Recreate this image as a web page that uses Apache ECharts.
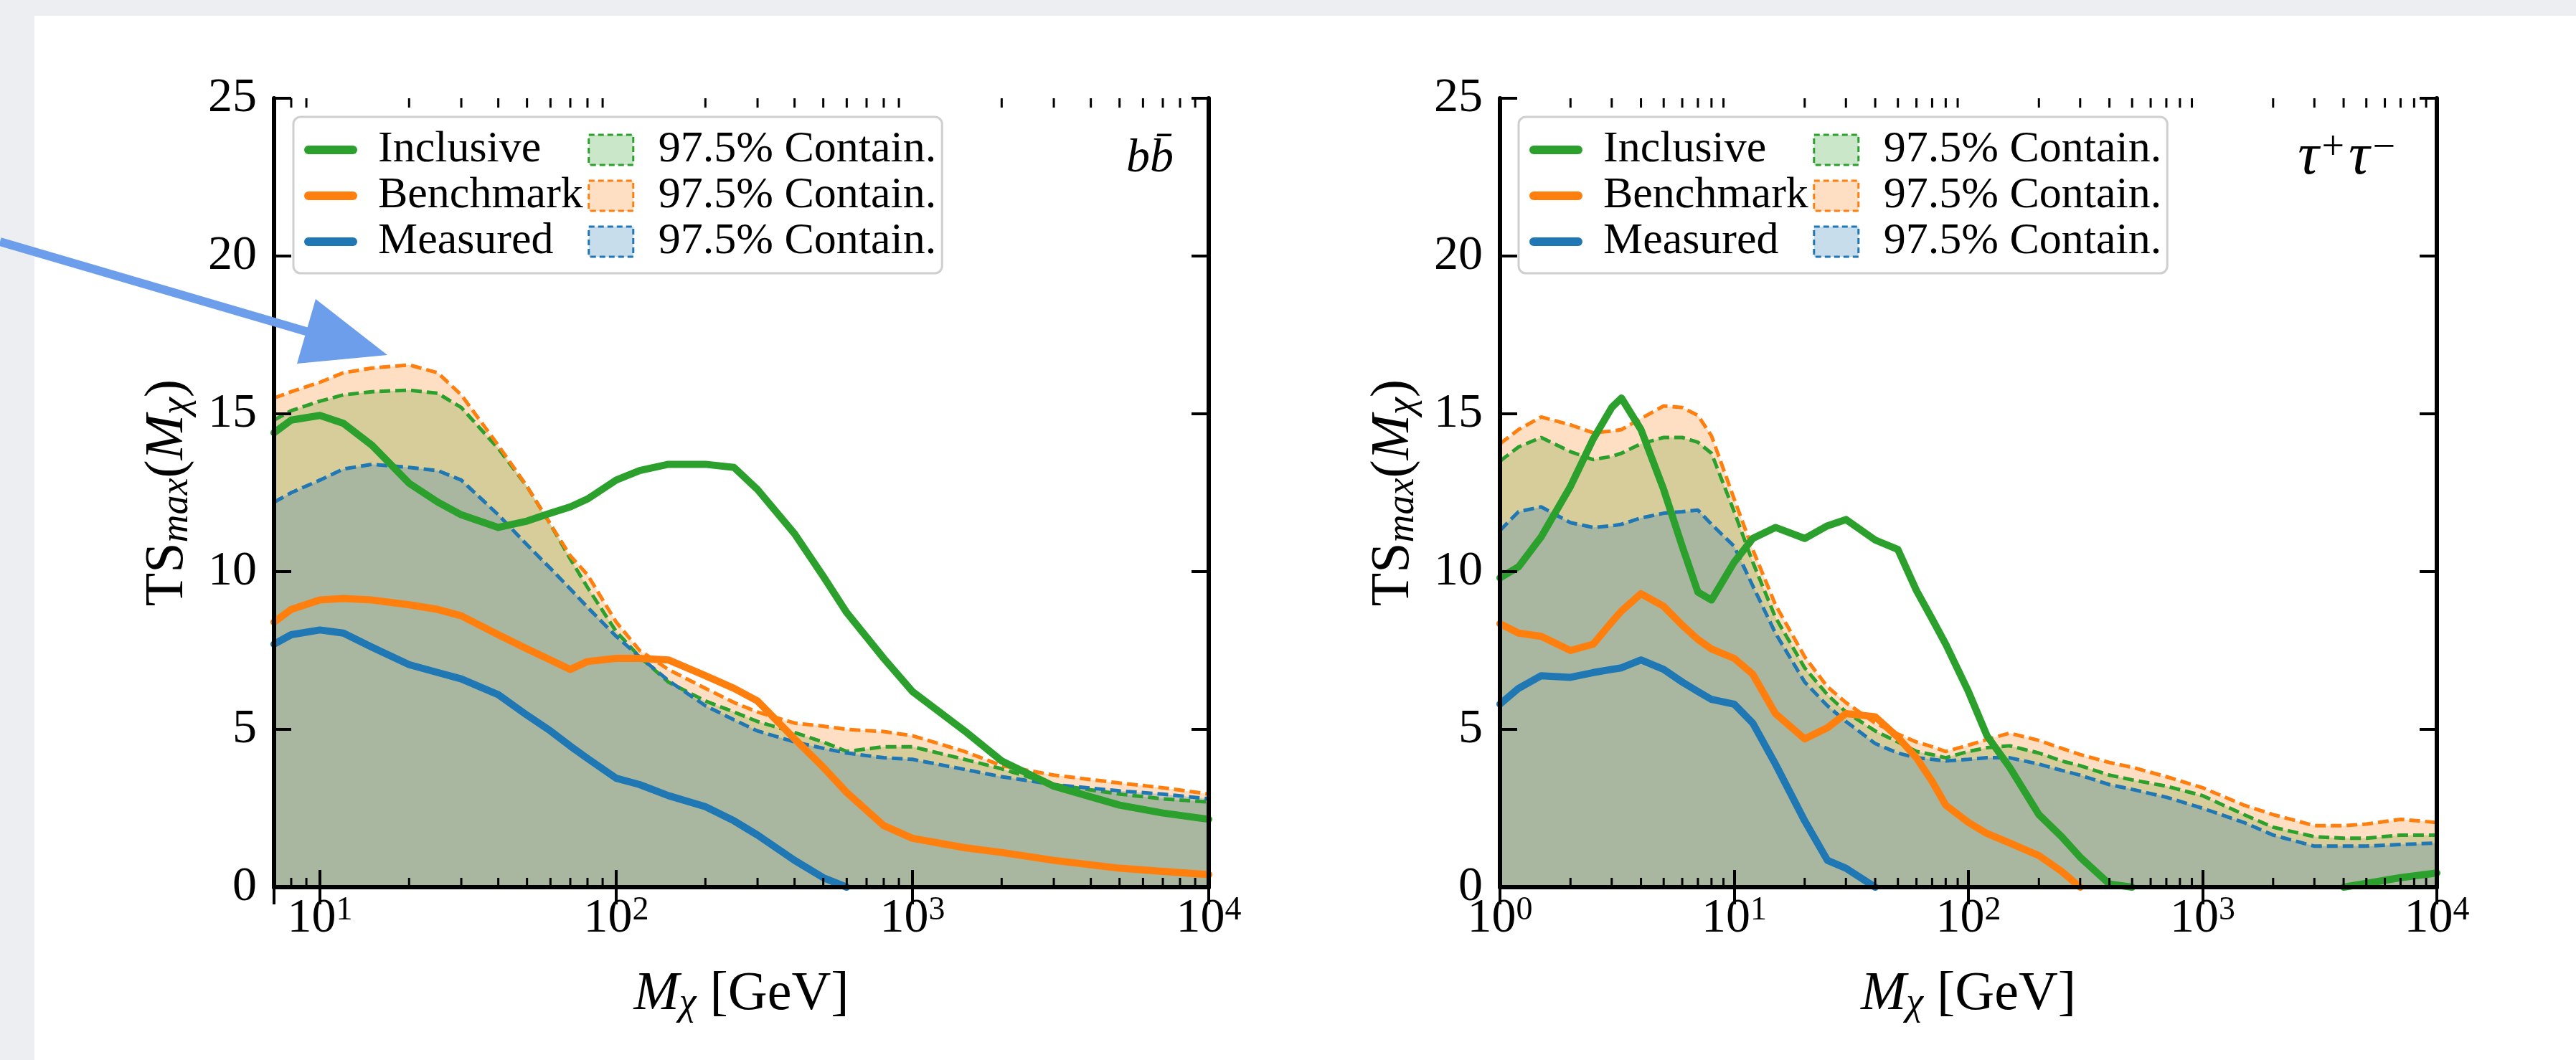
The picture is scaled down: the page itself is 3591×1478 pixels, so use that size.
<!DOCTYPE html>
<html>
<head>
<meta charset="utf-8">
<script src="https://cdn.jsdelivr.net/npm/echarts@6/dist/echarts.min.js"></script>
<style>
  html, body { margin: 0; padding: 0; background: #ffffff; }
  #chart { width: 3591px; height: 1478px; }
</style>
</head>
<body>
<div id="chart"></div>
<script>
// ---- b b-bar channel: dark-matter mass grid (GeV) and TS_max values ----
const massBB = [7, 8, 10, 12, 15, 20, 25, 30, 40, 50, 60, 70, 80, 100, 120, 150, 200, 250, 300, 400,
                500, 600, 800, 1000, 1500, 2000, 3000, 5000, 7000, 10000];
const bbInclusive = [14.4, 14.8, 14.95, 14.7, 14.0, 12.8, 12.2, 11.8, 11.4, 11.6, 11.85, 12.05, 12.3, 12.9, 13.2, 13.4, 13.4, 13.3, 12.6, 11.2,
                     9.85, 8.7, 7.25, 6.2, 4.95, 4.0, 3.2, 2.6, 2.35, 2.15];
const bbBenchmark = [8.4, 8.8, 9.1, 9.15, 9.1, 8.95, 8.8, 8.6, 8.0, 7.55, 7.2, 6.9, 7.15, 7.25, 7.25, 7.2, 6.7, 6.3, 5.9, 4.7,
                     3.8, 3.0, 1.95, 1.55, 1.25, 1.1, 0.85, 0.6, 0.5, 0.4];
const bbMeasured = [7.7, 8.0, 8.15, 8.05, 7.6, 7.05, 6.8, 6.6, 6.1, 5.45, 4.95, 4.47, 4.08, 3.45, 3.25, 2.9, 2.55, 2.1, 1.65, 0.85,
                    0.3, 0, null, null, null, null, null, null, null, null];
const bbBandInclusive = [14.8, 15.1, 15.4, 15.6, 15.7, 15.75, 15.65, 15.2, 13.9, 12.7, 11.5, 10.4, 9.5, 8.1, 7.3, 6.5, 5.9, 5.55, 5.25, 4.9,
                         4.6, 4.3, 4.45, 4.45, 4.05, 3.75, 3.25, 2.95, 2.8, 2.7];
const bbBandBenchmark = [15.5, 15.7, 16.0, 16.3, 16.45, 16.55, 16.3, 15.6, 14.0, 12.7, 11.5, 10.5, 9.9, 8.4, 7.5, 6.9, 6.3, 5.85, 5.55, 5.2,
                         5.1, 5.0, 4.93, 4.8, 4.3, 3.85, 3.55, 3.3, 3.15, 2.95];
const bbBandMeasured = [12.2, 12.5, 12.9, 13.25, 13.4, 13.3, 13.2, 12.9, 11.8, 10.85, 10.1, 9.45, 8.87, 7.95, 7.3, 6.55, 5.75, 5.3, 4.95, 4.6,
                        4.4, 4.25, 4.1, 4.05, 3.73, 3.5, 3.25, 3.05, 2.95, 2.8];

// ---- tau+ tau- channel ----
const massTT = [1, 1.2, 1.5, 2, 2.5, 3, 3.3, 4, 5, 6, 7, 8, 10, 12, 15, 20, 25, 30, 40, 50,
                60, 70, 80, 100, 120, 150, 200, 250, 300, 400, 500, 700, 1000, 1500, 2000, 3000, 4000, 5000, 7000, 10000];
const ttInclusive = [9.8, 10.15, 11.1, 12.7, 14.2, 15.2, 15.5, 14.5, 12.6, 10.8, 9.35, 9.1, 10.3, 11.05, 11.4, 11.05, 11.45, 11.65, 11.0, 10.7,
                     9.4, 8.5, 7.7, 6.2, 4.8, 3.8, 2.3, 1.6, 0.95, 0.1, 0, null, null, null, null, null, 0, 0.12, 0.3, 0.45];
const ttBenchmark = [8.35, 8.05, 7.95, 7.5, 7.7, 8.4, 8.75, 9.3, 8.9, 8.3, 7.85, 7.55, 7.25, 6.75, 5.5, 4.7, 5.05, 5.5, 5.4, 4.75,
                     4.1, 3.35, 2.6, 2.05, 1.7, 1.4, 1.0, 0.5, 0, null, null, null, null, null, null, null, null, null, null, null];
const ttMeasured = [5.8, 6.3, 6.7, 6.65, 6.8, 6.9, 6.95, 7.2, 6.9, 6.5, 6.2, 5.95, 5.8, 5.2, 3.9, 2.1, 0.85, 0.6, 0, null,
                    null, null, null, null, null, null, null, null, null, null, null, null, null, null, null, null, null, null, null, null];
const ttBandInclusive = [13.5, 13.95, 14.25, 13.8, 13.55, 13.65, 13.75, 14.05, 14.25, 14.25, 14.1, 13.75, 11.9, 10.3, 8.55, 6.95, 6.1, 5.55, 4.95, 4.6,
                         4.3, 4.2, 4.1, 4.3, 4.42, 4.48, 4.25, 4.0, 3.85, 3.55, 3.4, 3.2, 2.9, 2.3, 1.9, 1.6, 1.55, 1.55, 1.65, 1.65];
const ttBandBenchmark = [14.05, 14.5, 14.9, 14.65, 14.4, 14.45, 14.5, 14.85, 15.25, 15.2, 14.95, 14.3, 12.3, 10.7, 8.95, 7.3, 6.35, 5.85, 5.2, 4.85,
                         4.6, 4.45, 4.3, 4.5, 4.68, 4.88, 4.65, 4.4, 4.2, 3.95, 3.8, 3.5, 3.15, 2.6, 2.3, 1.95, 1.95, 2.0, 2.15, 2.05];
const ttBandMeasured = [11.3, 11.9, 12.05, 11.55, 11.4, 11.45, 11.5, 11.7, 11.85, 11.9, 11.95, 11.5, 10.8, 9.55, 8.05, 6.5, 5.75, 5.25, 4.55, 4.25,
                        4.1, 4.05, 4.0, 4.05, 4.1, 4.1, 3.9, 3.7, 3.55, 3.25, 3.1, 2.85, 2.5, 2.05, 1.65, 1.3, 1.3, 1.3, 1.35, 1.4];

// ---- axis ticks ----
const yTicks = [0, 5, 10, 15, 20, 25];
const minorDigits = [2, 3, 4, 5, 6, 7, 8, 9];
const decadesBB = [1, 10, 100, 1000];
const decadesTT = [1, 10, 100, 1000];

const SERIF = '"Liberation Serif", "DejaVu Serif", serif';
const GREEN = '#2ca02c', ORANGE = '#ff7f0e', BLUE = '#1f77b4';
const FILL_ALPHA = 0.25;

function pairs(xs, ys) { return xs.map((x, i) => [x, ys[i]]); }
function minorTicks(decades, lo, hi) {
  const out = [];
  decades.forEach(d => minorDigits.forEach(k => { const v = k * d; if (v > lo && v < hi) out.push(v); }));
  return out;
}

const tickRich = {
  b: { fontFamily: SERIF, fontSize: 68, lineHeight: 68, color: '#000', verticalAlign: 'bottom', padding: [8, 0, 0, 0] },
  s: { fontFamily: SERIF, fontSize: 46, lineHeight: 46, color: '#000', verticalAlign: 'top' }
};
function powerLabel(v) {
  const lg = Math.log10(v);
  const e = Math.round(lg);
  if (Math.abs(lg - e) > 1e-6) return '';
  return '{b|10}{s|' + e + '}';
}

const nameRich = {
  r: { fontFamily: SERIF, fontSize: 76, lineHeight: 80, color: '#000' },
  i: { fontFamily: SERIF, fontStyle: 'italic', fontSize: 76, lineHeight: 80, color: '#000' },
  sub: { fontFamily: SERIF, fontStyle: 'italic', fontSize: 54, lineHeight: 54, color: '#000', verticalAlign: 'bottom', padding: [44, 0, 0, 0] }
};

function xAxisPair(gridIndex, min) {
  const base = {
    type: 'log', logBase: 10, min: min, max: 10000, gridIndex: gridIndex, z: 10,
    axisLine: { show: true, lineStyle: { color: '#000', width: 6 } },
    axisTick: { show: true, inside: true, length: 24, lineStyle: { color: '#000', width: 4 } },
    splitLine: { show: false }, minorTick: { show: false }, minorSplitLine: { show: false }
  };
  return [
    Object.assign({}, base, {
      position: 'bottom',
      axisLabel: { show: true, margin: 10, formatter: powerLabel, rich: tickRich, showMinLabel: true, showMaxLabel: true },
      name: '{i|M}{sub|χ}{r| [GeV]}', nameLocation: 'middle', nameGap: 110,
      nameTextStyle: { rich: nameRich }
    }),
    Object.assign({}, base, { position: 'top', axisLabel: { show: false } })
  ];
}

function yAxisPair(gridIndex) {
  const base = {
    type: 'value', min: 0, max: 25, interval: 5, gridIndex: gridIndex, z: 10,
    axisLine: { show: true, lineStyle: { color: '#000', width: 6 } },
    axisTick: { show: true, inside: true, length: 24, lineStyle: { color: '#000', width: 4 } },
    splitLine: { show: false }
  };
  return [
    Object.assign({}, base, {
      position: 'left',
      axisLabel: { show: true, margin: 24, fontFamily: SERIF, fontSize: 68, color: '#000',
                   formatter: v => (yTicks.indexOf(v) >= 0 ? String(v) : '') },
      name: '{r|TS}{sub|max}{r|(}{i|M}{sub|χ}{r|)}', nameLocation: 'middle', nameGap: 108,
      nameRotate: 90, nameTextStyle: { rich: nameRich }
    }),
    Object.assign({}, base, { position: 'right', axisLabel: { show: false } })
  ];
}

function bandSeries(name, xi, yi, mass, vals, color) {
  return {
    name: name, type: 'line', xAxisIndex: xi, yAxisIndex: yi, data: pairs(mass, vals),
    symbol: 'none', silent: true, z: 1, animation: false,
    itemStyle: { color: color },
    lineStyle: { color: color, width: 5, type: [15, 7] },
    areaStyle: { color: color, opacity: FILL_ALPHA }
  };
}
function lineSeries(name, xi, yi, mass, vals, color) {
  return {
    name: name, type: 'line', xAxisIndex: xi, yAxisIndex: yi, data: pairs(mass, vals),
    symbol: 'none', showSymbol: false, silent: true, z: 3, animation: false, connectNulls: false,
    itemStyle: { color: color },
    lineStyle: { color: color, width: 10, cap: 'round', join: 'round' }
  };
}
function minorTickSeries(xi, yi, ticks) {
  return {
    type: 'custom', xAxisIndex: xi, yAxisIndex: yi, silent: true, z: 11, clip: false, animation: false,
    data: ticks.map(m => [m, 0]),
    renderItem: function (params, api) {
      const b = api.coord([api.value(0), 0]);
      const t = api.coord([api.value(0), 25]);
      const st = { stroke: '#000', lineWidth: 3 };
      return { type: 'group', children: [
        { type: 'line', shape: { x1: b[0], y1: b[1], x2: b[0], y2: b[1] - 13 }, style: st },
        { type: 'line', shape: { x1: t[0], y1: t[1], x2: t[0], y2: t[1] + 13 }, style: st }
      ] };
    }
  };
}

function lineLegendItem(name) {
  return { name: name, itemStyle: { opacity: 0 }, lineStyle: { width: 12 } };
}
function bandLegendItem(name, color, rgba) {
  return { name: name, icon: 'rect',
           itemStyle: { color: rgba, borderColor: color, borderWidth: 3, borderType: [8, 5] } };
}
function legendAt(left, top) {
  return {
    left: left, top: top, orient: 'vertical', height: 222,
    itemWidth: 62, itemHeight: 42, itemGap: 2,
    padding: [15, 8, 13, 15],
    backgroundColor: 'rgba(255,255,255,0.85)', borderColor: '#cfcfcf', borderWidth: 3, borderRadius: 10,
    selectedMode: false, z: 8,
    textStyle: { fontFamily: SERIF, fontSize: 62, color: '#000', padding: [0, 26, 0, 30] },
    formatter: n => (n.endsWith(' band') ? '97.5% Contain.' : n),
    data: [
      lineLegendItem('Inclusive'), lineLegendItem('Benchmark'), lineLegendItem('Measured'),
      bandLegendItem('Inclusive band', GREEN, 'rgba(44,160,44,0.25)'),
      bandLegendItem('Benchmark band', ORANGE, 'rgba(255,127,14,0.25)'),
      bandLegendItem('Measured band', BLUE, 'rgba(31,119,180,0.25)')
    ]
  };
}

const chart = echarts.init(document.getElementById('chart'), null, { renderer: 'canvas' });

const xAxes = [].concat(xAxisPair(0, 7), xAxisPair(1, 1));
const yAxes = [].concat(yAxisPair(0), yAxisPair(1));

const series = [
  bandSeries('Inclusive band', 0, 0, massBB, bbBandInclusive, GREEN),
  bandSeries('Benchmark band', 0, 0, massBB, bbBandBenchmark, ORANGE),
  bandSeries('Measured band', 0, 0, massBB, bbBandMeasured, BLUE),
  lineSeries('Inclusive', 0, 0, massBB, bbInclusive, GREEN),
  lineSeries('Benchmark', 0, 0, massBB, bbBenchmark, ORANGE),
  lineSeries('Measured', 0, 0, massBB, bbMeasured, BLUE),
  minorTickSeries(0, 0, minorTicks(decadesBB, 7, 10000)),

  bandSeries('Inclusive band', 2, 2, massTT, ttBandInclusive, GREEN),
  bandSeries('Benchmark band', 2, 2, massTT, ttBandBenchmark, ORANGE),
  bandSeries('Measured band', 2, 2, massTT, ttBandMeasured, BLUE),
  lineSeries('Inclusive', 2, 2, massTT, ttInclusive, GREEN),
  lineSeries('Benchmark', 2, 2, massTT, ttBenchmark, ORANGE),
  lineSeries('Measured', 2, 2, massTT, ttMeasured, BLUE),
  minorTickSeries(2, 2, minorTicks(decadesTT, 1, 10000))
];

chart.setOption({
  animation: false,
  backgroundColor: '#ffffff',
  grid: [
    { left: 382, top: 137, width: 1303, height: 1100, show: false },
    { left: 2091, top: 137, width: 1306, height: 1100, show: false }
  ],
  xAxis: xAxes,
  yAxis: yAxes,
  legend: [legendAt(409, 163), legendAt(2117, 163)],
  series: series,
  graphic: [
    // slide margin strips
    { type: 'rect', left: 0, top: 0, shape: { width: 48, height: 1478 }, style: { fill: '#eceef1' }, z: -10 },
    { type: 'rect', left: 0, top: 0, shape: { width: 3591, height: 22 }, style: { fill: '#eceef1' }, z: -10 },
    // channel labels
    { type: 'text', x: 1636, y: 222, z: 20,
      style: { text: 'bb\u0304', fontFamily: SERIF, fontStyle: 'italic', fontSize: 66, fill: '#000',
               align: 'right', verticalAlign: 'middle' } },
    { type: 'text', x: 3345, y: 220, z: 20,
      style: { text: '{t|τ}{s|+}{t|τ}{s|−}', align: 'right', verticalAlign: 'middle',
               rich: { t: { fontFamily: SERIF, fontStyle: 'italic', fontSize: 82, lineHeight: 82, fill: '#000', verticalAlign: 'bottom', padding: [14, 0, 0, 0] },
                       s: { fontFamily: SERIF, fontSize: 56, lineHeight: 56, fill: '#000', verticalAlign: 'top', padding: [0, 6, 0, 4] } } } },
    // pointer arrow
    { type: 'polyline', z: 30, shape: { points: [[0, 337], [430, 463]] },
      style: { stroke: '#6d9eeb', lineWidth: 12, fill: null } },
    { type: 'polygon', z: 30, shape: { points: [[440, 417], [540, 495], [414, 507]] },
      style: { fill: '#6d9eeb' } }
  ]
});
</script>
</body>
</html>
